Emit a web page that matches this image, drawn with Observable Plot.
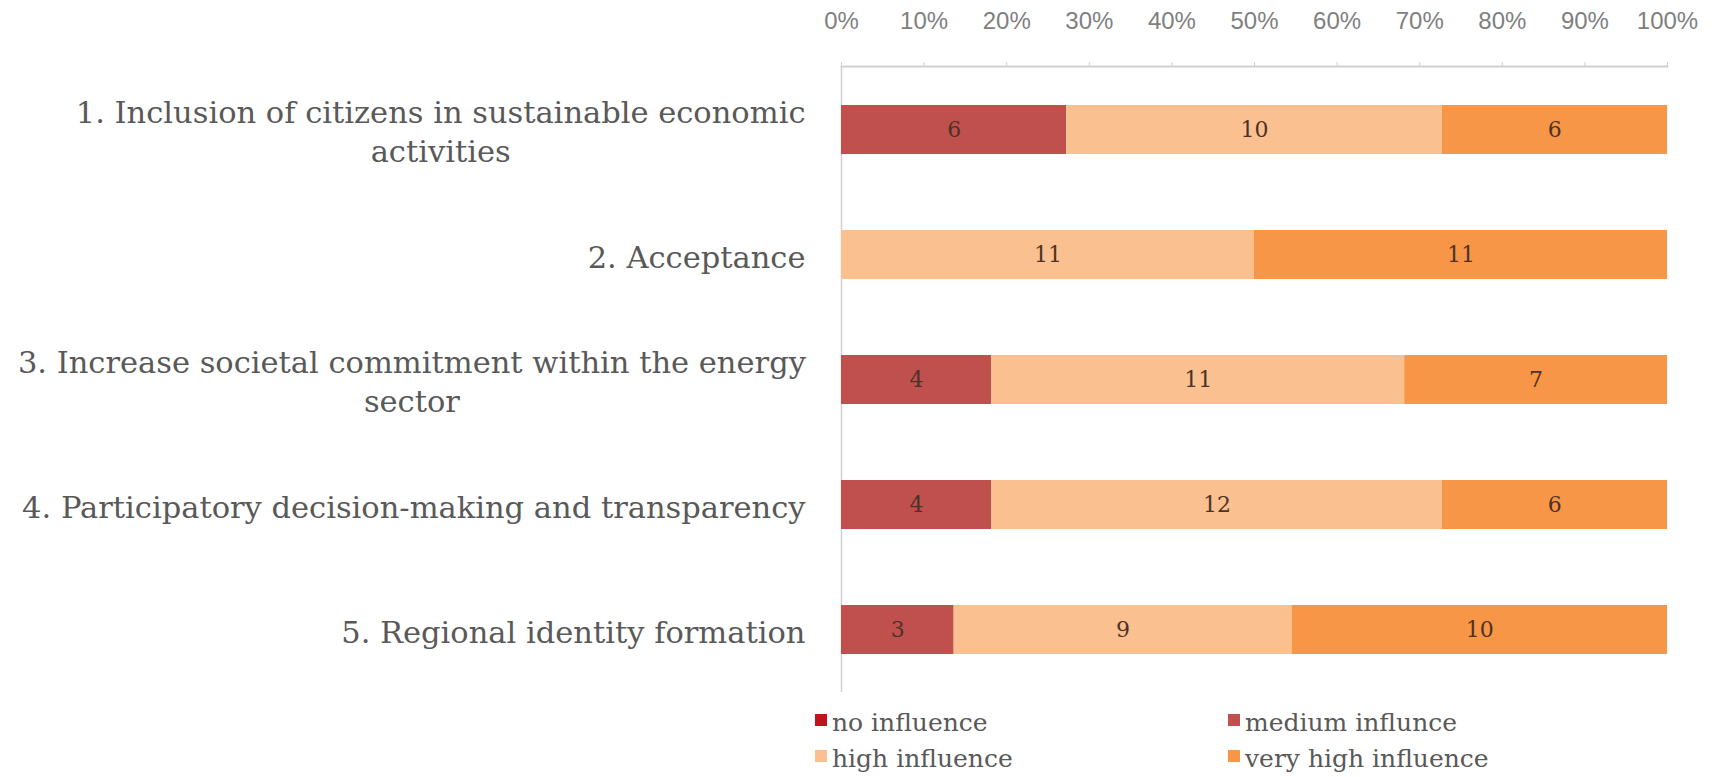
<!DOCTYPE html>
<html><head><meta charset="utf-8">
<script src="https://cdn.jsdelivr.net/npm/d3@7"></script>
<script src="https://cdn.jsdelivr.net/npm/@observablehq/plot@0.6"></script>
<style>
body{margin:0;background:#fff;}
#legend{position:relative;width:1719px;height:77px;font-family:"DejaVu Serif",serif;font-size:25px;color:#595959;}
.item{position:absolute;display:flex;align-items:center;height:30px;line-height:30px;}
.sw{width:12px;height:12px;margin-right:5px;margin-top:-6px;}
</style></head><body>
<div id="chart"></div>
<div id="legend"></div>
<script>
const categories = ["c1","c2","c3","c4","c5"];
const categoryLabels = [
  "1. Inclusion of citizens in sustainable economic\nactivities",
  "2. Acceptance",
  "3. Increase societal commitment within the energy\nsector",
  "4. Participatory decision-making and transparency",
  "5. Regional identity formation"
];
const series = ["no influence","medium influence","high influence","very high influence"];
const legendLabels = ["no influence","medium influnce","high influence","very high influence"];
const noInfluence = [0,0,0,0,0];
const mediumInfluence = [6,0,4,4,3];
const highInfluence = [10,11,11,12,9];
const veryHighInfluence = [6,11,7,6,10];
const colors = ["#c0141c","#c0504d","#fac090","#f79646"];
const xTicks = [0,0.1,0.2,0.3,0.4,0.5,0.6,0.7,0.8,0.9,1];

const seriesValues = [noInfluence, mediumInfluence, highInfluence, veryHighInfluence];
const rows = [];
categories.forEach((c,i)=>seriesValues.forEach((vals,j)=>rows.push({category:c, series:series[j], value:vals[i]})));
const labelOf = Object.fromEntries(categories.map((c,i)=>[c,categoryLabels[i]]));

const plot = Plot.plot({
  width:1719, height:700,
  marginLeft:841, marginRight:52, marginTop:66, marginBottom:8,
  style:{background:"#fff"},
  x:{domain:[0,1], axis:null},
  y:{domain:categories, paddingInner:0.61, paddingOuter:0.305, axis:null},
  color:{domain:series, range:colors},
  marks:[
    Plot.axisX({anchor:"top", ticks:xTicks, tickFormat:d=>Math.round(d*100)+"%", tickSize:5, tickPadding:33,
      fontSize:24, fontFamily:"Liberation Sans", fill:"#7f7f7f", stroke:"#d0d0d0", label:null}),
    Plot.frame({anchor:"top", stroke:"#d0d0d0", strokeWidth:2}),
    Plot.ruleX([0], {stroke:"#d0d0d0", strokeWidth:1.5}),
    Plot.barX(rows, Plot.stackX({x:"value", y:"category", fill:"series", z:"series", offset:"normalize", order:series})),
    Plot.text(rows, Plot.stackX({x:"value", y:"category", z:"series", text:"value", offset:"normalize", order:series,
      filter:d=>d.value>0, fill:"#4e3226", fontSize:22, fontFamily:"DejaVu Serif"})),
    Plot.axisY({anchor:"left", tickSize:0, tickPadding:36, tickFormat:d=>labelOf[d], fontSize:30.5,
      fontFamily:"DejaVu Serif", fill:"#595959", lineHeight:1.28, label:null})
  ]
});
document.getElementById("chart").appendChild(plot);

// center multi-line labels under their first line (right-aligned block)
plot.querySelectorAll("g[aria-label='y-axis tick label'] text").forEach(t=>{
  const spans = t.querySelectorAll("tspan");
  if (spans.length > 1) {
    const bb = t.getBBox();
    const cx = bb.x + bb.width/2;
    t.setAttribute("text-anchor","middle");
    t.removeAttribute("dx");
    spans.forEach(s=>s.setAttribute("x", cx));
  }
});

const legend = d3.select("#legend");
const pos = [[815,8],[1228,8],[815,44],[1228,44]];
legendLabels.forEach((l,i)=>{
  const it = legend.append("div").attr("class","item").style("left",pos[i][0]+"px").style("top",pos[i][1]+"px");
  it.append("div").attr("class","sw").style("background",colors[i]);
  it.append("span").text(l);
});
</script>
</body></html>
